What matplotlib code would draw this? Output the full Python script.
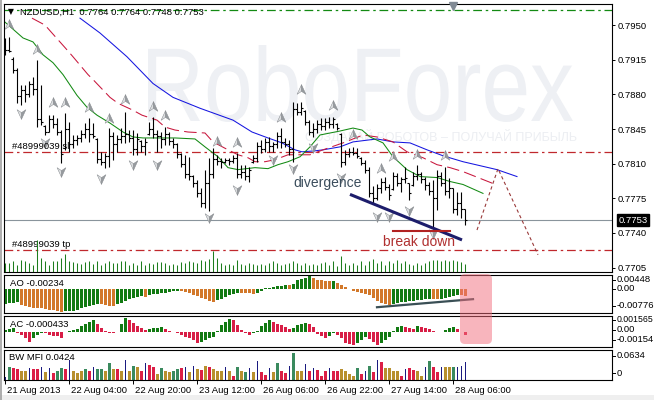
import matplotlib
matplotlib.use("Agg")
import numpy as np
import matplotlib.pyplot as plt
import matplotlib.transforms as mtransforms
from matplotlib.path import Path
from matplotlib.patches import FancyBboxPatch, PathPatch, Rectangle
from matplotlib.textpath import TextPath
from matplotlib.font_manager import FontProperties
from matplotlib.lines import Line2D

plt.rcParams["font.family"] = ["Liberation Sans", "DejaVu Sans"]

# ---------------- data (NZDUSD, H1, 21-28 Aug 2013) ----------------
bar_open = [
    .7930, .7925, .7916, .7905, .7878, .7884, .7880, .7890, .7885, .7855,
    .7848, .7842, .7855, .7850, .7842, .7826, .7845, .7830, .7834, .7836,
    .7840, .7845, .7840, .7835, .7815, .7812, .7818, .7838, .7830, .7835,
    .7838, .7840, .7836, .7825, .7833, .7828, .7840, .7845, .7840, .7838,
    .7835, .7840, .7833, .7830, .7820, .7810, .7800, .7798, .7790, .7780,
    .7770, .7790, .7800, .7815, .7813, .7812, .7814, .7813, .7816, .7800,
    .7802, .7798, .7812, .7816, .7828, .7825, .7832, .7828, .7830, .7838,
    .7832, .7830, .7825, .7865, .7862, .7863, .7852, .7842, .7845, .7850,
    .7848, .7852, .7850, .7850, .7840, .7812, .7820, .7822, .7821, .7816,
    .7811, .7804, .7780, .7775, .7785, .7792, .7786, .7784, .7798, .7790,
    .7795, .7790, .7788, .7798, .7800, .7795, .7788, .7782, .7775, .7798,
    .7790, .7782, .7785, .7764, .7770, .7764]
bar_high = [
    .7937, .7938, .7918, .7907, .7889, .7889, .7894, .7898, .7915, .7889,
    .7849, .7859, .7859, .7856, .7844, .7861, .7852, .7839, .7839, .7844,
    .7851, .7856, .7851, .7836, .7822, .7821, .7846, .7842, .7839, .7846,
    .7862, .7844, .7844, .7841, .7834, .7836, .7852, .7857, .7844, .7842,
    .7847, .7842, .7836, .7831, .7821, .7819, .7817, .7799, .7794, .7785,
    .7804, .7816, .7826, .7819, .7816, .7816, .7816, .7819, .7821, .7809,
    .7809, .7807, .7819, .7832, .7834, .7836, .7837, .7832, .7842, .7846,
    .7836, .7834, .7872, .7871, .7872, .7864, .7854, .7851, .7854, .7856,
    .7856, .7857, .7857, .7851, .7841, .7824, .7826, .7827, .7826, .7817,
    .7814, .7807, .7787, .7789, .7796, .7797, .7789, .7802, .7801, .7797,
    .7807, .7791, .7802, .7809, .7802, .7797, .7792, .7794, .7804, .7802,
    .7807, .7796, .7785, .7781, .7781, .7764]
bar_low = [
    .7920, .7923, .7902, .7871, .7869, .7872, .7877, .7879, .7847, .7849,
    .7839, .7842, .7846, .7839, .7811, .7824, .7822, .7826, .7829, .7832,
    .7836, .7832, .7836, .7811, .7809, .7806, .7807, .7814, .7822, .7831,
    .7831, .7832, .7819, .7819, .7822, .7819, .7839, .7836, .7822, .7826,
    .7829, .7829, .7826, .7816, .7807, .7796, .7794, .7786, .7776, .7766,
    .7765, .7762, .7796, .7809, .7806, .7811, .7809, .7811, .7796, .7796,
    .7794, .7792, .7811, .7812, .7821, .7822, .7822, .7822, .7826, .7826,
    .7827, .7819, .7812, .7859, .7859, .7849, .7839, .7837, .7841, .7844,
    .7844, .7846, .7846, .7844, .7807, .7809, .7817, .7819, .7816, .7809,
    .7801, .7776, .7770, .7773, .7780, .7783, .7773, .7783, .7787, .7781,
    .7791, .7773, .7787, .7794, .7791, .7783, .7778, .7745, .7763, .7787,
    .7778, .7775, .7760, .7758, .7755, .7748]
bar_close = [
    .7925, .7924, .7905, .7878, .7884, .7880, .7890, .7885, .7855, .7852,
    .7842, .7855, .7850, .7842, .7820, .7845, .7830, .7834, .7836, .7840,
    .7845, .7840, .7838, .7815, .7812, .7818, .7838, .7830, .7835, .7838,
    .7840, .7836, .7825, .7835, .7828, .7832, .7845, .7840, .7838, .7835,
    .7840, .7833, .7830, .7820, .7810, .7800, .7798, .7790, .7780, .7770,
    .7790, .7800, .7815, .7813, .7812, .7814, .7813, .7816, .7800, .7802,
    .7798, .7804, .7816, .7828, .7825, .7832, .7828, .7830, .7838, .7832,
    .7830, .7825, .7865, .7862, .7866, .7852, .7842, .7845, .7850, .7848,
    .7852, .7850, .7855, .7846, .7812, .7820, .7822, .7821, .7818, .7811,
    .7804, .7780, .7775, .7785, .7792, .7786, .7778, .7798, .7790, .7795,
    .7796, .7780, .7798, .7800, .7795, .7788, .7782, .7775, .7798, .7790,
    .7782, .7785, .7764, .7770, .7764, .7753]
tick_volume = [
    900, 900, 1100, 700, 1200, 1100, 900, 700, 3200, 1400,
    1100, 700, 1100, 1100, 1400, 1800, 1100, 1000, 900, 800,
    1000, 1100, 800, 1100, 700, 900, 1100, 900, 900, 1100,
    1100, 700, 900, 700, 1100, 700, 900, 800, 1000, 1000,
    900, 700, 800, 700, 1000, 900, 1100, 1000, 900, 1200,
    1100, 1300, 2100, 1400, 900, 700, 800, 700, 1200, 800,
    700, 900, 800, 700, 800, 700, 900, 1100, 900, 700,
    800, 900, 1100, 900, 700, 900, 700, 800, 700, 900,
    1000, 700, 1100, 600, 1600, 900, 700, 900, 700, 1100,
    700, 1100, 1300, 900, 1100, 700, 1100, 900, 1200, 900,
    1100, 800, 700, 900, 700, 900, 1100, 1200, 1200, 1100,
    1200, 1100, 1200, 1100, 1000, 800]

# Alligator lines (bar position, price), drawn with their forward shift
lips_x = [0, 4.5, 7, 9.5, 12, 14.5, 18, 20.5, 23, 26.25, 29.5, 32, 34.5, 38.75, 42.5,
          47.5, 50, 53.25, 55.75, 58.25, 62.5, 65.75, 68.25, 70.75, 73.75, 76.25, 78.75,
          83.75, 87, 89.25, 91.25, 94.5, 97, 100.5, 103.75, 108, 111.25, 114.5, 119.5]
lips_y = [.7953, .7937, .7933, .7920, .7912, .7900, .7879, .7867, .7859, .7851, .7842,
          .7837, .7836, .7836, .7836, .7835, .7827, .7817, .7806, .7804, .7806, .7805,
          .7809, .7812, .7817, .7827, .7839, .7843, .7846, .7844, .7837, .7831, .7817,
          .7804, .7797, .7796, .7792, .7789, .7780]
teeth_x = [6.75, 10, 11.75, 15.5, 17, 20.75, 22, 26.25, 28.25, 32, 34.25, 38, 40, 42.5,
           45.75, 50, 52, 55.75, 58.25, 60.75, 62.5, 65, 67.5, 70.75, 74.25, 76.25, 79.5,
           84.5, 89.5, 93, 97, 100.5, 104.5, 108, 111.25, 114.5, 122]
teeth_y = [.7957, .7950, .7942, .7925, .7918, .7900, .7895, .7877, .7871, .7864, .7859,
           .7854, .7847, .7844, .7842, .7841, .7832, .7824, .7819, .7816, .7812, .7812,
           .7814, .7819, .7819, .7819, .7824, .7831, .7839, .7837, .7832, .7822, .7816,
           .7809, .7806, .7802, .7790]
jaw_x = [18.75, 23.75, 30.5, 37, 42, 48.75, 57, 61.75, 65.75, 69.25, 72.5, 74.25, 77.5,
         79.5, 83.75, 87, 93, 97, 101.25, 105.5, 109.5, 114.5, 123, 128]
jaw_y = [.7957, .7942, .7918, .7891, .7877, .7866, .7854, .7842, .7836, .7831, .7824,
         .7822, .7823, .7824, .7827, .7832, .7835, .7832, .7831, .7824, .7818, .7812,
         .7804, .7797]

fractal_up_bar = [1, 8, 12, 15, 21, 26, 30, 37, 40, 53, 58, 69, 74, 82, 87, 94, 97, 103, 110]
fractal_up_price = [.7950, .7925, .7871, .7871, .7866, .7855, .7874, .7867, .7858, .7832,
                    .7831, .7856, .7884, .7868, .7839, .7805, .7817, .7819, .7818]
fractal_dn_bar = [4, 10, 14, 24, 32, 38, 51, 58, 67, 72, 77, 84, 93, 96, 101, 107]
fractal_dn_price = [.7861, .7832, .7803, .7796, .7810, .7810, .7756, .7784, .7815, .7806,
                    .7827, .7797, .7757, .7757, .7763, .7740]

ao_values = [
    -0.0050, -0.0049, -0.0046, -0.0043, -0.0055, -0.0058, -0.0060, -0.0063, -0.0064, -0.0066,
    -0.0068, -0.0070, -0.0072, -0.0075, -0.00776, -0.0076, -0.0075, -0.0074, -0.0071, -0.0066,
    -0.0062, -0.0057, -0.0054, -0.0050, -0.0052, -0.0055, -0.0056, -0.0057, -0.0051, -0.0046,
    -0.0040, -0.0034, -0.0030, -0.0026, -0.0023, -0.0025, -0.0021, -0.0017, -0.0015, -0.0013,
    -0.0011, -0.0009, -0.0007, -0.0005, -0.0006, -0.0009, -0.0014, -0.0018, -0.0023, -0.0029,
    -0.0034, -0.0039, -0.0043, -0.0038, -0.0032, -0.0026, -0.0021, -0.0016, -0.0011, -0.0012,
    -0.0013, -0.0014, -0.0015, -0.0011, -0.0004, 0.0003, 0.0006, 0.0009, 0.0011, 0.0012,
    0.0015, 0.0014, 0.0017, 0.0031, 0.0036, 0.0040, 0.00448, 0.0040, 0.0034, 0.0031,
    0.0030, 0.0028, 0.0029, 0.0023, 0.0016, 0.0008, 0.0002, -0.0005, -0.0009, -0.0011,
    -0.0015, -0.0021, -0.0030, -0.0040, -0.0047, -0.0052, -0.0055, -0.0050, -0.0047, -0.0045,
    -0.0043, -0.0041, -0.0039, -0.0038, -0.0036, -0.0034, -0.0032, -0.0034, -0.0035, -0.0032,
    -0.0029, -0.0026, -0.0023, -0.0020, -0.0021, -0.00234]
ac_values = [
    0.0002, 0.0003, 0.0004, -0.0002, -0.0004, -0.0008, -0.0012, -0.0008, -0.0004, -0.00015,
    -0.0002, -0.0004, -0.0005, -0.00055, -0.0008, -0.0001, 0.0001, 0.0002, 0.0003, 0.0007,
    0.0009, 0.0011, 0.0013, 0.0009, 0.0004, 0.0001, -0.00015, -0.0002, 0.0, 0.0009,
    0.001565, 0.0013, 0.0010, 0.0007, 0.0004, 0.00015, 0.0003, 0.0004, 0.00045, 0.0005,
    0.0003, 0.0001, -0.0001, -0.00015, -0.0004, -0.0007, -0.0008, -0.0010, -0.0013, -0.0012,
    -0.0010, -0.0008, -0.0007, 0.0001, 0.0008, 0.0011, 0.0015, 0.0013, 0.0008, 0.0002,
    -0.00015, -0.0004, -0.0002, 0.0001, 0.0007, 0.0010, 0.0013, 0.0011, 0.0009, 0.0008,
    0.0005, 0.0003, 0.0004, 0.0008, 0.0009, 0.00095, 0.00085, 0.0005, -0.0003, -0.0005,
    -0.0008, -0.0005, -0.0002, -0.0004, -0.0008, -0.0013, -0.0015, -0.00154, -0.0014, -0.0010,
    -0.0007, -0.0009, -0.0012, -0.00154, -0.0014, -0.0010, -0.0006, 0.0001, 0.0005, 0.0006,
    0.0005, 0.0004, 0.0003, 0.0006, 0.0005, 0.0004, 0.0003, 0.0001, -0.0001, -0.00005,
    0.0002, 0.0004, 0.0005, 0.0003, -0.00005, -0.000433]
bw_values = [
    .0062, .0312, .0281, .0257, .0203, .0203, .0281, .0257, .0257, .0296,
    .0179, .0281, .0156, .0218, .0281, .0257, .0468, .0203, .0164, .0203,
    .0257, .0218, .0296, .0257, .0257, .0203, .0390, .0257, .0257, .0218,
    .0468, .0218, .0335, .0296, .0203, .0390, .0359, .0296, .0140, .0281,
    .0203, .0179, .0218, .0257, .0281, .0296, .0179, .0335, .0257, .0234,
    .0335, .0312, .0257, .0218, .0218, .0296, .0203, .0101, .0312, .0218,
    .0179, .0281, .0179, .0437, .0179, .0125, .0281, .0179, .0390, .0218,
    .0156, .0335, .0634, .0203, .0203, .0374, .0203, .0281, .0234, .0102,
    .0219, .0282, .0219, .0219, .0259, .0219, .0141, .0102, .0282, .0141,
    .0219, .0337, .0180, .0470, .0415, .0282, .0282, .0219, .0219, .0102,
    .0259, .0282, .0235, .0219, .0102, .0298, .0454, .0298, .0180, .0313,
    .0298, .0298, .0298, .0313, .0337, .0424]
bw_zone = (
    "k g s s f f k s s k "
    "f k s g g s k f f f "
    "g s k g g f g f s f "
    "k f g f s k s s f g "
    "f f g g s k f k f s "
    "f s f f f k f s g f "
    "g k f k s s k f g s "
    "s k g f f k s k s s "
    "s k s s f f f f g s "
    "k g s k s f f f f s "
    "k s s f f k g s s k "
    "f f g k k k").split()

price_ticks = [0.7705, 0.7740, 0.7775, 0.7810, 0.7845, 0.7880, 0.7915, 0.7950]
bid_price = 0.7753
sl_price = 0.7822
tp_price = 0.7723
top_level = 0.7965
date_bars = [0, 16, 32, 48, 64, 80, 96, 112]
date_labels = ["21 Aug 2013", "22 Aug 04:00", "22 Aug 20:00", "23 Aug 12:00",
               "26 Aug 06:00", "26 Aug 22:00", "27 Aug 14:00", "28 Aug 06:00"]
forecast_x = [118, 123.25, 133.25]
forecast_y = [0.7743, 0.7805, 0.7718]
div_x = [86.25, 114.25]
div_y = [0.7779, 0.7733]
ao_div_x = [93, 117]
ao_div_y = [-0.0062, -0.0034]

# ---------------- figure ----------------
W, H = 654, 400
fig = plt.figure(figsize=(W / 100, H / 100), dpi=100)
fig.patch.set_facecolor("white")


def rect(x0, y0, x1, y1):
    return [x0 / W, 1 - y1 / H, (x1 - x0) / W, (y1 - y0) / H]


def ptext(x, y, s, **kw):
    kw.setdefault("fontsize", 6.8)
    kw.setdefault("va", "center")
    return fig.text(x / W, 1 - y / H, s, **kw)


ax = fig.add_axes(rect(4, 4, 612, 272))
ax_vol = ax.twinx()
ax_ao = fig.add_axes(rect(4, 274.5, 612, 313))
ax_ac = fig.add_axes(rect(4, 315.5, 612, 347))
ax_bw = fig.add_axes(rect(4, 349.5, 612, 380))

bars = np.arange(len(bar_close))
for a in (ax, ax_ao, ax_ac, ax_bw):
    a.set_xlim(-0.25, 151.75)
    for s in a.spines.values():
        s.set_linewidth(0.8)
        s.set_color("black")
    a.tick_params(axis="x", bottom=False, labelbottom=False)
    a.tick_params(axis="y", left=False, labelleft=False, right=False, labelright=False)

# watermark
fp = FontProperties(family="Liberation Sans")
wm = TextPath((0, 0), "RoboForex", size=100, prop=fp)
ext = wm.get_extents()
wx0, wy0, wx1, wy1 = 148, 45, 573, 122
wtr = (mtransforms.Affine2D().translate(-ext.x0, -ext.y0)
       .scale((wx1 - wx0) / ext.width, (wy1 - wy0) / ext.height)
       .translate(wx0, H - wy1))
ax.add_patch(PathPatch(wm, transform=wtr, fc="#eef0f4", ec="none", zorder=0.5))
ax.text(577, H - 136, "СОЗДАВАЙ РОБОТОВ – ПОЛУЧАЙ ПРИБЫЛЬ", transform=mtransforms.IdentityTransform(),
        ha="right", va="center", fontsize=9, color="#eceef2", zorder=0.6)

# volumes
ax_vol.vlines(bars, 0, tick_volume, color="#1d7d1d", lw=0.75)
ax_vol.set_ylim(0, 26800)
ax_vol.axis("off")

# level lines
ax.axhline(top_level, color="#138a13", lw=0.9, ls=(0, (7, 3, 2, 3)), zorder=1)
ax.axhline(sl_price, color="#c0282d", lw=0.9, ls=(0, (7, 3, 2, 3)), zorder=1)
ax.axhline(tp_price, color="#c0282d", lw=0.9, ls=(0, (7, 3, 2, 3)), zorder=1)
ax.axhline(bid_price, color="#8a949c", lw=0.8, zorder=1)

# alligator
ax.plot(jaw_x, jaw_y, color="#1515e0", lw=0.75, zorder=2)
ax.plot(teeth_x, teeth_y, color="#c8163c", lw=0.75, ls=(0, (12, 5)), zorder=2)
ax.plot(lips_x, lips_y, color="#138a13", lw=0.75, zorder=2)

# OHLC bars
ax.vlines(bars, bar_low, bar_high, color="black", lw=0.8, zorder=3)
ax.hlines(bar_open, bars - 0.4, bars, color="black", lw=0.8, zorder=3)
ax.hlines(bar_close, bars, bars + 0.4, color="black", lw=0.8, zorder=3)

# fractals
codes = [Path.MOVETO, Path.LINETO, Path.LINETO, Path.CLOSEPOLY]
up_l = Path([(0, 1), (0, -0.15), (-0.75, -0.65), (0, 1)], codes)
up_r = Path([(0, 1), (0.75, -0.65), (0, -0.15), (0, 1)], codes)
dn_l = Path([(0, -1), (0, 0.15), (-0.75, 0.65), (0, -1)], codes)
dn_r = Path([(0, -1), (0.75, 0.65), (0, 0.15), (0, -1)], codes)
for mk, fc, xs, ys in ((up_l, "#dcdee0", fractal_up_bar, fractal_up_price),
                       (up_r, "#979b9f", fractal_up_bar, fractal_up_price),
                       (dn_l, "#dcdee0", fractal_dn_bar, fractal_dn_price),
                       (dn_r, "#979b9f", fractal_dn_bar, fractal_dn_price)):
    ax.plot(xs, ys, ls="none", marker=mk, ms=8.4, mfc=fc, mec="#868a8e", mew=0.35, zorder=4)

# annotations
ax.plot(div_x, div_y, color="#1d1d6b", lw=2.2, solid_capstyle="butt", zorder=5)
ax.plot([97, 111.25], [0.7742, 0.7742], color="#b22222", lw=1.5, zorder=5)
ax.plot(forecast_x, forecast_y, color="#9a3a3a", lw=0.8, ls=(0, (3, 2.5)), zorder=5)
ax.text(72, 0.7790, "divergence", fontsize=10, color="#3b4d5c", va="center", ha="left", zorder=6)
ax.text(94.5, 0.7731, "break down", fontsize=10, color="#b03030", va="center", ha="left", zorder=6)
ax.text(1.75, sl_price + 0.0001, "#48999039 sl", fontsize=6.8, va="bottom", zorder=6)
ax.text(1.75, tp_price + 0.0001, "#48999039 tp", fontsize=6.8, va="bottom", zorder=6)

ax.set_ylim(0.77006, 0.79713)
ax.yaxis.tick_right()
ax.set_yticks(price_ticks)
ax.set_yticklabels([f"{v:.4f}" for v in price_ticks])
ax.tick_params(axis="y", right=True, labelright=True, direction="out", length=2.5,
               width=0.7, pad=1.5, labelsize=6.8)
ax.annotate(f"{bid_price:.4f}", xy=(1, bid_price), xycoords=("axes fraction", "data"),
            xytext=(4.5, 0), textcoords="offset points", color="white", fontsize=6.8,
            va="center", ha="left",
            bbox=dict(boxstyle="square,pad=0.18", fc="black", ec="black"), zorder=7)

# AO
ao_col = ["#127a12" if i == 0 or ao_values[i] > ao_values[i - 1] else "#d2782a"
          for i in range(len(ao_values))]
ax_ao.bar(bars, ao_values, width=0.75, color=ao_col, linewidth=0)
ax_ao.plot(ao_div_x, ao_div_y, color="#3a4f55", lw=1.6, zorder=3)
ax_ao.set_ylim(-0.0082, 0.00515)

# AC
ac_col = ["#127a12" if i == 0 or ac_values[i] > ac_values[i - 1] else "#d81e46"
          for i in range(len(ac_values))]
ax_ac.bar(bars, ac_values, width=0.75, color=ac_col, linewidth=0)
ax_ac.set_ylim(-0.00181, 0.00187)

# BW MFI
zone_color = {"g": "#3a8a5e", "f": "#b8902e", "k": "#1a1a80", "s": "#dc1e46"}
for b, v, z in zip(bars, bw_values, bw_zone):
    ax_bw.bar(b, v, width=0.25 if z == "k" else 0.75, color=zone_color[z], linewidth=0)
ax_bw.set_ylim(0, 0.0716)
ax_bw.set_xticks(date_bars)
ax_bw.set_xticklabels(date_labels)
ax_bw.tick_params(axis="x", bottom=True, labelbottom=True, direction="out", length=3,
                  width=0.7, pad=1.2, labelsize=6.8)
shift = mtransforms.ScaledTranslation(1.5 / 72, 0, fig.dpi_scale_trans)
for lbl in ax_bw.get_xticklabels():
    lbl.set_horizontalalignment("left")
    lbl.set_transform(lbl.get_transform() + shift)

# panel captions and scales
ptext(20, 12, "NZDUSD,H1  0.7764 0.7764 0.7748 0.7753")
ptext(11, 12, "▼", fontsize=5.5, ha="center", family="DejaVu Sans")
ptext(10, 284, "AO -0.00234")
ptext(10, 324.5, "AC -0.000433")
ptext(9, 358, "BW MFI 0.0424")
for y, s, fs in ((280, "0.00448", 6.8), (288.5, "0.00", 6.8), (306, "-0.00776", 6.8),
                 (320, "0.001565", 6.3), (330, "0.00", 6.8), (340, "-0.00154", 6.8),
                 (356, "0.0634", 6.8), (373, "0", 6.8)):
    ptext(617, y, s, fontsize=fs)
    fig.add_artist(Line2D([612 / W, 615 / W], [1 - y / H] * 2, color="black", lw=0.7))

# highlight box over oscillators
fig.add_artist(FancyBboxPatch((460, H - 344), 32, 70, boxstyle="round,pad=0,rounding_size=5",
                              transform=mtransforms.IdentityTransform(), fc="#f26d7d",
                              alpha=0.5, ec="none", zorder=10))
fig.add_artist(Line2D([453 / W], [1 - 6 / H], marker="v", ms=6, color="#808a94", ls="none"))
fig.add_artist(Rectangle((0, 0), 1, 5 / H, transform=fig.transFigure, fc="#efefef", ec="none"))
fig.add_artist(Line2D([0.6 / W, 0.6 / W], [0, 1], color="#a0a0a0", lw=1.2))

fig.savefig("out.png", dpi=100)
